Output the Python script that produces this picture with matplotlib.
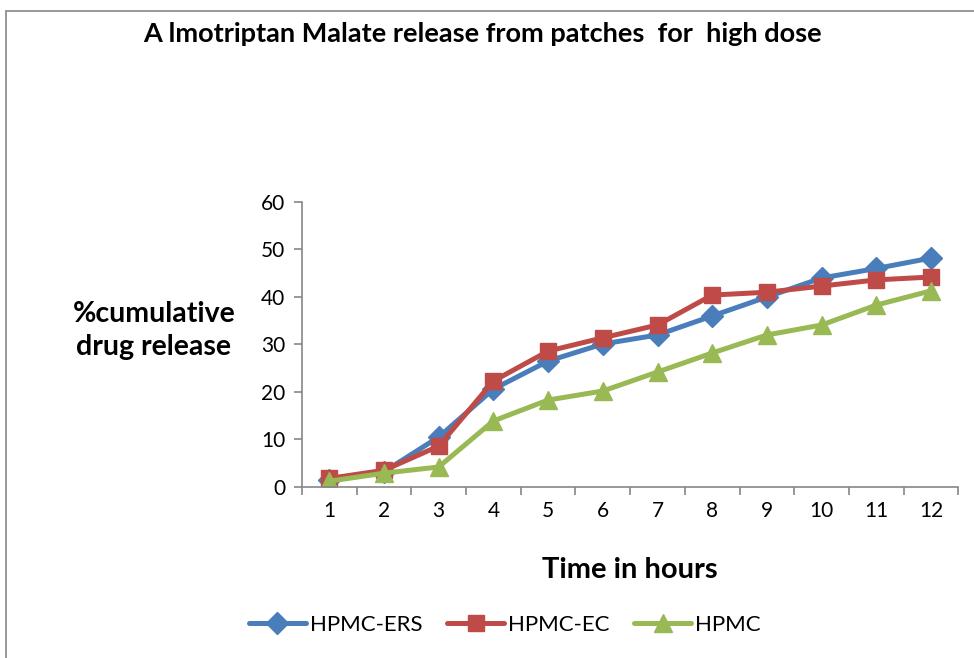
import matplotlib.pyplot as plt
from matplotlib.patches import Rectangle

plt.rcParams['font.family'] = ['Lato', 'DejaVu Sans']

# ================================================================
# Data
# ================================================================
hours = [1, 2, 3, 4, 5, 6, 7, 8, 9, 10, 11, 12]
hpmc_ers = [1.5, 3.2, 10.5, 20.6, 26.5, 30.1, 32.0, 36.0, 40.0, 44.0, 46.0, 48.2]
hpmc_ec = [1.8, 3.5, 8.6, 22.3, 28.6, 31.4, 34.1, 40.4, 41.0, 42.3, 43.6, 44.2]
hpmc = [1.2, 2.9, 4.2, 13.9, 18.3, 20.2, 24.2, 28.2, 32.0, 34.1, 38.3, 41.3]

series = [
    ('HPMC-ERS', hpmc_ers, '#4A7EBB', 'D', 11),
    ('HPMC-EC', hpmc_ec, '#BE4B48', 's', 12),
    ('HPMC', hpmc, '#98B954', '^', 13),
]

# ================================================================
# Plot
# ================================================================
fig = plt.figure(figsize=(9.74, 6.58), dpi=100)
ax = fig.add_axes([0.310, 0.260, 0.674, 0.433])

for name, vals, color, marker, ms in series:
    ax.plot(hours, vals, color=color, marker=marker, markersize=ms,
            linewidth=3.6, label=name, solid_capstyle='round')

ax.set_xlim(0.5, 12.5)
ax.set_ylim(0, 60)
ax.set_yticks(range(0, 61, 10))
ax.set_xticks(hours)
ax.set_xticks([h + 0.5 for h in [0] + hours], minor=True)
ax.tick_params(axis='x', which='major', length=0, pad=10, labelsize=15)
ax.tick_params(axis='x', which='minor', length=6, color='#868686', width=1.2)
ax.tick_params(axis='y', length=6, color='#868686', width=1.2, labelsize=15, pad=6)

for side in ['top', 'right']:
    ax.spines[side].set_visible(False)
for side in ['left', 'bottom']:
    ax.spines[side].set_color('#868686')
    ax.spines[side].set_linewidth(1.2)

ax.set_xlabel('Time in hours', fontsize=21, fontweight='bold', labelpad=26)
fig.text(0.158, 0.498, '%cumulative\ndrug release', fontsize=20.5, fontweight='bold',
         ha='center', va='center', linespacing=1.35)

fig.text(0.495, 0.948, 'A lmotriptan Malate release from patches  for  high dose',
         fontsize=19.5, fontweight='bold', ha='center', va='center')

ax.legend(loc='center', bbox_to_anchor=(0.518, 0.050), bbox_transform=fig.transFigure,
          ncol=3, frameon=False, fontsize=16, handlelength=2.6, columnspacing=1.1,
          handletextpad=0.15)

fig.patches.append(Rectangle((0.006, -0.01), 1.2, 0.993, transform=fig.transFigure,
                             fill=False, edgecolor='#868686', linewidth=1.2))

plt.savefig('out.png', dpi=100)
plt.close()
